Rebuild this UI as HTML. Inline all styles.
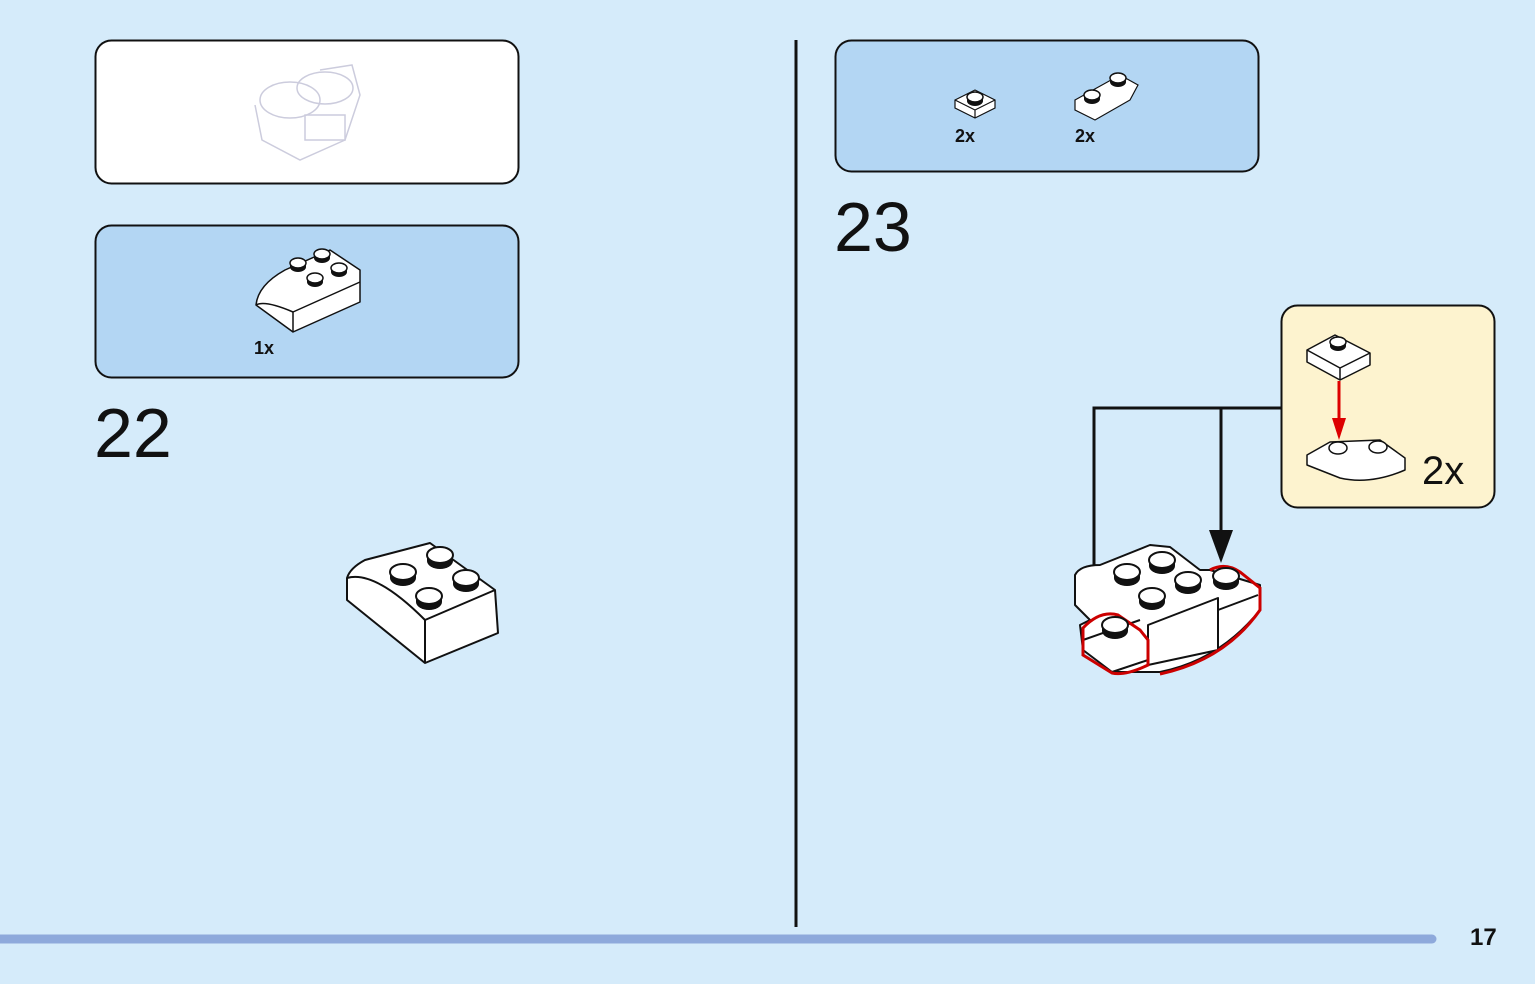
<!DOCTYPE html>
<html><head><style>
body{margin:0;width:1535px;height:984px;background:#d5ebfa;overflow:hidden;font-family:"Liberation Sans",sans-serif}
</style></head><body>
<svg width="1535" height="984" xmlns="http://www.w3.org/2000/svg" style="position:absolute;left:0;top:0">
<defs>
<g id="stud"><ellipse cx="0" cy="6" rx="13" ry="8" fill="#111"/><rect x="-13" y="0" width="26" height="6" fill="#111"/><ellipse cx="0" cy="0" rx="13" ry="8" fill="#fff" stroke="#111" stroke-width="2"/></g>
<g id="sstud"><ellipse cx="0" cy="4" rx="8" ry="5" fill="#111"/><rect x="-8" y="0" width="16" height="4" fill="#111"/><ellipse cx="0" cy="0" rx="8" ry="5" fill="#fff" stroke="#111" stroke-width="1.5"/></g>
</defs>
<rect x="95.5" y="40.5" width="423" height="143" rx="16" fill="#fff" stroke="#111" stroke-width="2"/>
<rect x="95.5" y="225.5" width="423" height="152" rx="16" fill="#b3d6f3" stroke="#111" stroke-width="2"/>
<rect x="835.5" y="40.5" width="423" height="131" rx="16" fill="#b3d6f3" stroke="#111" stroke-width="2"/>
<rect x="1281.5" y="305.5" width="213" height="202" rx="16" fill="#fdf3cf" stroke="#111" stroke-width="2"/>
<line x1="796" y1="40" x2="796" y2="927" stroke="#111" stroke-width="3"/>
<line x1="0" y1="939" x2="1432" y2="939" stroke="#8ea9db" stroke-width="9" stroke-linecap="round"/>
<g fill="none" stroke="#ccd" stroke-width="1.5">
<ellipse cx="290" cy="100" rx="30" ry="18"/><ellipse cx="325" cy="88" rx="28" ry="16"/>
<path d="M255 105 L262 140 L300 160 L345 140 L360 95 L352 65 L320 70"/>
<rect x="305" y="115" width="40" height="25"/>
</g>
<g stroke="#111" stroke-width="1.5" stroke-linejoin="round">
<path d="M256 305 Q258 285 285 270 L330 250 L360 270 L360 302 L293 332 Z" fill="#fff"/>
<path d="M293 332 L293 312 L360 282" fill="none"/>
<path d="M256 305 Q265 300 293 312" fill="none"/>
</g>
<use href="#sstud" x="298" y="263"/><use href="#sstud" x="322" y="254"/><use href="#sstud" x="339" y="268"/><use href="#sstud" x="315" y="278"/>
<text x="254" y="354" font-size="18" font-weight="bold" fill="#111">1x</text>
<g stroke="#111" stroke-width="1.2" fill="#fff">
<path d="M955 100 L975 90 L995 100 L995 108 L975 118 L955 108 Z"/>
<path d="M955 100 L975 110 L995 100 M975 110 L975 118" fill="none"/>
<path d="M1075 100 L1120 75 L1138 85 L1130 100 L1095 120 L1075 110 Z"/>
</g>
<use href="#sstud" x="975" y="97"/>
<use href="#sstud" x="1118" y="78"/>
<use href="#sstud" x="1092" y="95"/>
<text x="955" y="142" font-size="18" font-weight="bold" fill="#111">2x</text>
<text x="1075" y="142" font-size="18" font-weight="bold" fill="#111">2x</text>
<text x="94" y="457" font-size="70" fill="#111">22</text>
<text x="834" y="251" font-size="70" fill="#111">23</text>
<text x="1470" y="945" font-size="24" font-weight="bold" fill="#111">17</text>
<g stroke="#111" stroke-width="2" stroke-linejoin="round">
<path d="M347 578 Q350 568 365 560 L430 543 L495 590 L498 633 L425 663 L347 600 Z" fill="#fff"/>
<path d="M425 663 L425 620 L495 590" fill="none"/>
<path d="M347 578 Q375 570 425 620" fill="none"/>
</g>
<use href="#stud" x="403" y="572"/><use href="#stud" x="440" y="555"/><use href="#stud" x="466" y="578"/><use href="#stud" x="429" y="596"/>
<g stroke="#111" stroke-width="1.5" fill="#fff" stroke-linejoin="round">
<path d="M1307 350 L1335 335 L1370 353 L1370 365 L1340 380 L1307 362 Z"/>
<path d="M1307 350 L1340 368 L1370 353 M1340 368 L1340 380" fill="none"/>
<path d="M1307 455 L1330 442 L1380 440 L1405 458 L1405 470 Q1370 485 1340 478 L1307 465 Z"/>
</g>
<use href="#sstud" x="1338" y="342"/>
<ellipse cx="1338" cy="448" rx="9" ry="6" fill="#fff" stroke="#111" stroke-width="1.5"/>
<ellipse cx="1378" cy="447" rx="9" ry="6" fill="#fff" stroke="#111" stroke-width="1.5"/>
<line x1="1339" y1="381" x2="1339" y2="420" stroke="#d00" stroke-width="3"/>
<polygon points="1332,418 1346,418 1339,440" fill="#d00"/>
<text x="1422" y="484" font-size="40" fill="#111">2x</text>
<path d="M1281 408 L1094 408 L1094 585 M1221 408 L1221 530" fill="none" stroke="#111" stroke-width="3"/>
<polygon points="1083,585 1106,585 1094,615" fill="#111"/>
<polygon points="1209,530 1233,530 1221,563" fill="#111"/>
<g stroke="#111" stroke-width="2" stroke-linejoin="round" fill="#fff">
<path d="M1075 575 Q1080 565 1100 565 L1150 545 L1170 547 L1200 570 L1210 570 L1260 585 L1260 610 Q1220 660 1160 672 L1112 672 L1083 650 L1080 625 L1090 620 L1075 605 Z"/>
<path d="M1148 665 L1148 625 L1218 598 L1218 650 Z"/>
<path d="M1083 640 L1140 620 M1218 610 L1258 595 M1112 672 L1148 660" fill="none"/>
</g>
<path d="M1083 628 Q1100 610 1118 615 L1140 630 L1148 640 L1148 665 Q1125 676 1112 673 L1083 655 Z M1210 570 Q1225 562 1240 572 L1260 588 L1260 610 Q1225 660 1160 674" fill="none" stroke="#c00" stroke-width="3"/>
<use href="#stud" x="1127" y="572"/><use href="#stud" x="1162" y="560"/><use href="#stud" x="1188" y="580"/><use href="#stud" x="1152" y="596"/><use href="#stud" x="1226" y="576"/><use href="#stud" x="1115" y="625"/>
</svg>
</body></html>
